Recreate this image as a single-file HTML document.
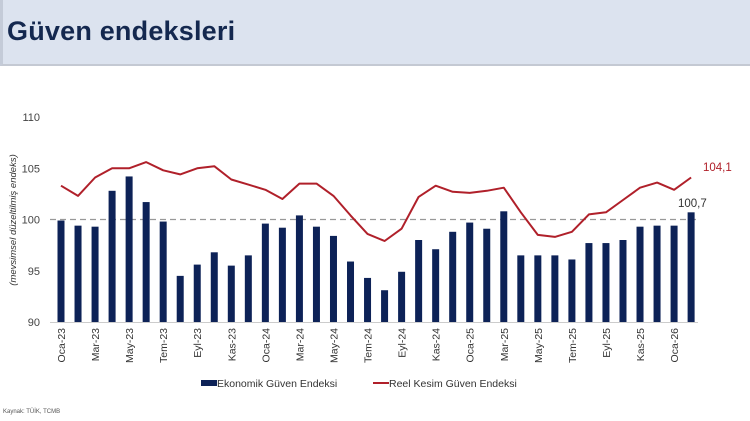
<!DOCTYPE html>
<html><head><meta charset="utf-8"><style>
body{margin:0;width:750px;height:421px;background:#fff;overflow:hidden;font-family:"Liberation Sans",sans-serif}
#hdr{position:absolute;left:0;top:0;width:750px;height:66px;background:#dce3ef;border-bottom:2px solid #c4c9d3;border-left:3px solid #c4cbd8;box-sizing:border-box}
#hdr div{position:absolute;left:4px;top:16px;font-size:27px;font-weight:bold;color:#14284f;letter-spacing:0.2px}
svg{position:absolute;left:0;top:0}
</style></head><body>
<div id="hdr"><div>Güven endeksleri</div></div>
<svg id="s" width="750" height="421" xmlns="http://www.w3.org/2000/svg"></svg>
<script>
var bars=[99.9,99.4,99.3,102.8,104.2,101.7,99.8,94.5,95.6,96.8,95.5,96.5,99.6,99.2,100.4,99.3,98.4,95.9,94.3,93.1,94.9,98.0,97.1,98.8,99.7,99.1,100.8,96.5,96.5,96.5,96.1,97.7,97.7,98.0,99.3,99.4,99.4,100.7];
var line=[103.3,102.3,104.1,105.0,105.0,105.6,104.8,104.4,105.0,105.2,103.9,103.4,102.9,102.0,103.5,103.5,102.3,100.4,98.6,97.9,99.1,102.2,103.3,102.7,102.6,102.8,103.1,100.7,98.5,98.3,98.8,100.5,100.7,101.9,103.1,103.6,102.9,104.1];
var labs=["Oca-23","Mar-23","May-23","Tem-23","Eyl-23","Kas-23","Oca-24","Mar-24","May-24","Tem-24","Eyl-24","Kas-24","Oca-25","Mar-25","May-25","Tem-25","Eyl-25","Kas-25","Oca-26"];
function Y(v){return 322-(v-90)*10.25}
function X(i){return 61+i*17.03}
var h='';
[90,95,100,105,110].forEach(function(v){h+='<text x="40" y="'+(Y(v)+4)+'" text-anchor="end" font-size="11" fill="#444">'+v+'</text>'});
h+='<line x1="50" y1="'+Y(100)+'" x2="700" y2="'+Y(100)+'" stroke="#999" stroke-width="1.2" stroke-dasharray="6,4"/>';
bars.forEach(function(v,i){h+='<rect x="'+(X(i)-3.5)+'" y="'+Y(v)+'" width="7" height="'+(322-Y(v))+'" fill="#0d2257"/>'});
h+='<line x1="50" y1="322.5" x2="698" y2="322.5" stroke="#ccc" stroke-width="1"/>';
h+='<polyline fill="none" stroke="#b0202a" stroke-width="2" stroke-linejoin="round" points="'+line.map(function(v,i){return X(i).toFixed(1)+','+Y(v).toFixed(1)}).join(' ')+'"/>';
labs.forEach(function(l,k){var x=X(k*2)+4;h+='<text transform="translate('+x+',328) rotate(-90)" text-anchor="end" font-size="10.5" fill="#333">'+l+'</text>'});
h+='<text transform="translate(16,220) rotate(-90)" text-anchor="middle" font-size="9.5" font-style="italic" fill="#333">(mevsimsel düzeltilmiş endeks)</text>';
h+='<text x="703" y="171" font-size="11.5" fill="#b0202a">104,1</text>';
h+='<text x="678" y="207" font-size="11.5" fill="#333">100,7</text>';
h+='<rect x="201" y="380" width="16" height="6" fill="#0d2257"/><text x="217" y="387" font-size="10.5" fill="#333">Ekonomik Güven Endeksi</text>';
h+='<line x1="373" y1="383" x2="389" y2="383" stroke="#b0202a" stroke-width="2"/><text x="389" y="387" font-size="10.5" fill="#333">Reel Kesim Güven Endeksi</text>';
h+='<text x="3" y="413" font-size="6" fill="#555">Kaynak: TÜİK, TCMB</text>';
document.getElementById('s').innerHTML=h;
</script>
</body></html>
